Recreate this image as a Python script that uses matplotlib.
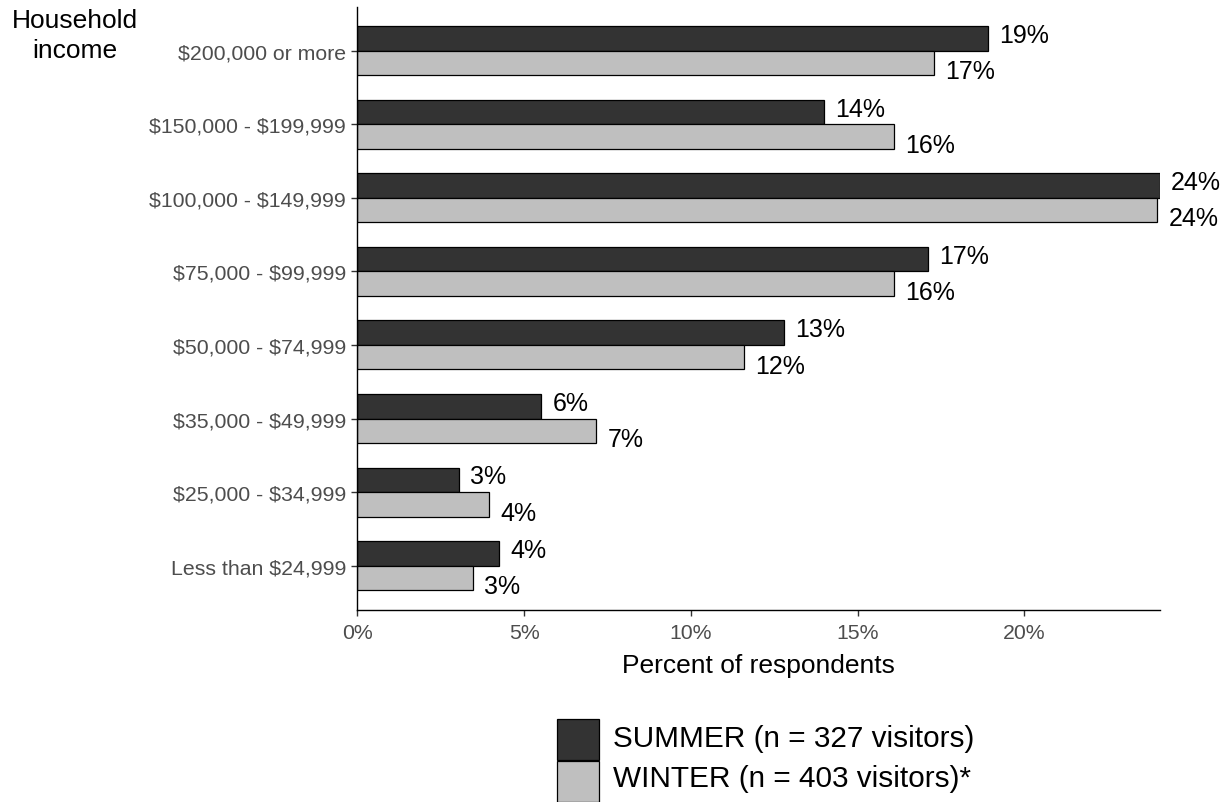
import numpy as np
import matplotlib
matplotlib.use("Agg")
import matplotlib.pyplot as plt
from matplotlib.patches import Rectangle

plt.rcParams['font.family'] = ['Liberation Sans', 'DejaVu Sans']
plt.rcParams['text.parse_math'] = False

categories = ['$200,000 or more', '$150,000 - $199,999', '$100,000 - $149,999',
              '$75,000 - $99,999', '$50,000 - $74,999', '$35,000 - $49,999',
              '$25,000 - $34,999', 'Less than $24,999']
summer = [18.9, 14.0, 24.07, 17.1, 12.8, 5.52, 3.04, 4.26]
winter = [17.3, 16.1, 23.99, 16.1, 11.6, 7.17, 3.95, 3.46]
ticks = [0, 5, 10, 15, 20]
series_names = ['SUMMER (n = 327 visitors)', 'WINTER (n = 403 visitors)*']

dark = '#333333'
light = '#BFBFBF'
h = 0.333
W, H = 1230, 803

fig = plt.figure(figsize=(W / 100, H / 100), dpi=100)
ax = fig.add_axes([357.3 / W, 1 - 610.8 / H, (1160 - 357.3) / W, (610.8 - 7.6) / H])

y = np.arange(len(categories))
ax.barh(y - h / 2, summer, height=h, color=dark, edgecolor='black', linewidth=0.9)
ax.barh(y + h / 2, winter, height=h, color=light, edgecolor='black', linewidth=0.9)

# value labels to the right of each bar
for yi, s, w in zip(y, summer, winter):
    ax.annotate(f"{s:.0f}%", (s, yi - h / 2), xytext=(8, 2.5), textcoords='offset points',
                ha='left', va='center', fontsize=18, color='black', clip_on=False)
    ax.annotate(f"{w:.0f}%", (w, yi + h / 2), xytext=(8, -6), textcoords='offset points',
                ha='left', va='center', fontsize=18, color='black', clip_on=False)

ax.set_xlim(0, max(summer + winter))
ax.set_ylim(len(categories) - 1 + 0.6, -0.6)
ax.set_yticks(y)
ax.set_yticklabels(categories)
ax.set_xticks(ticks)
ax.set_xticklabels([f"{t}%" for t in ticks])

for side in ['top', 'right']:
    ax.spines[side].set_visible(False)
for side in ['left', 'bottom']:
    ax.spines[side].set_linewidth(1.0)
    ax.spines[side].set_color('black')
ax.tick_params(axis='both', length=4, width=1.0, color='#333333',
               labelsize=15.3, labelcolor='#4D4D4D', pad=4)
ax.tick_params(axis='x', pad=5.5)

ax.set_xlabel('Percent of respondents', fontsize=19, labelpad=8)

# y-axis title, two centred lines
fig.text(75 / W, 1 - 28 / H, 'Household', ha='center', va='baseline', fontsize=19)
fig.text(75 / W, 1 - 58 / H, 'income', ha='center', va='baseline', fontsize=19)

# legend drawn by hand: stacked square keys with labels
key_tops = [720, 761.5]
baselines = [747, 787]
for top, base, col, name in zip(key_tops, baselines, [dark, light], series_names):
    fig.add_artist(Rectangle((557 / W, 1 - (top + 41) / H), 41.5 / W, 41 / H,
                             transform=fig.transFigure, facecolor=col,
                             edgecolor='black', linewidth=0.9))
    fig.text(613 / W, 1 - base / H, name, ha='left', va='baseline', fontsize=21.4)

fig.savefig('out.png', dpi=100)
